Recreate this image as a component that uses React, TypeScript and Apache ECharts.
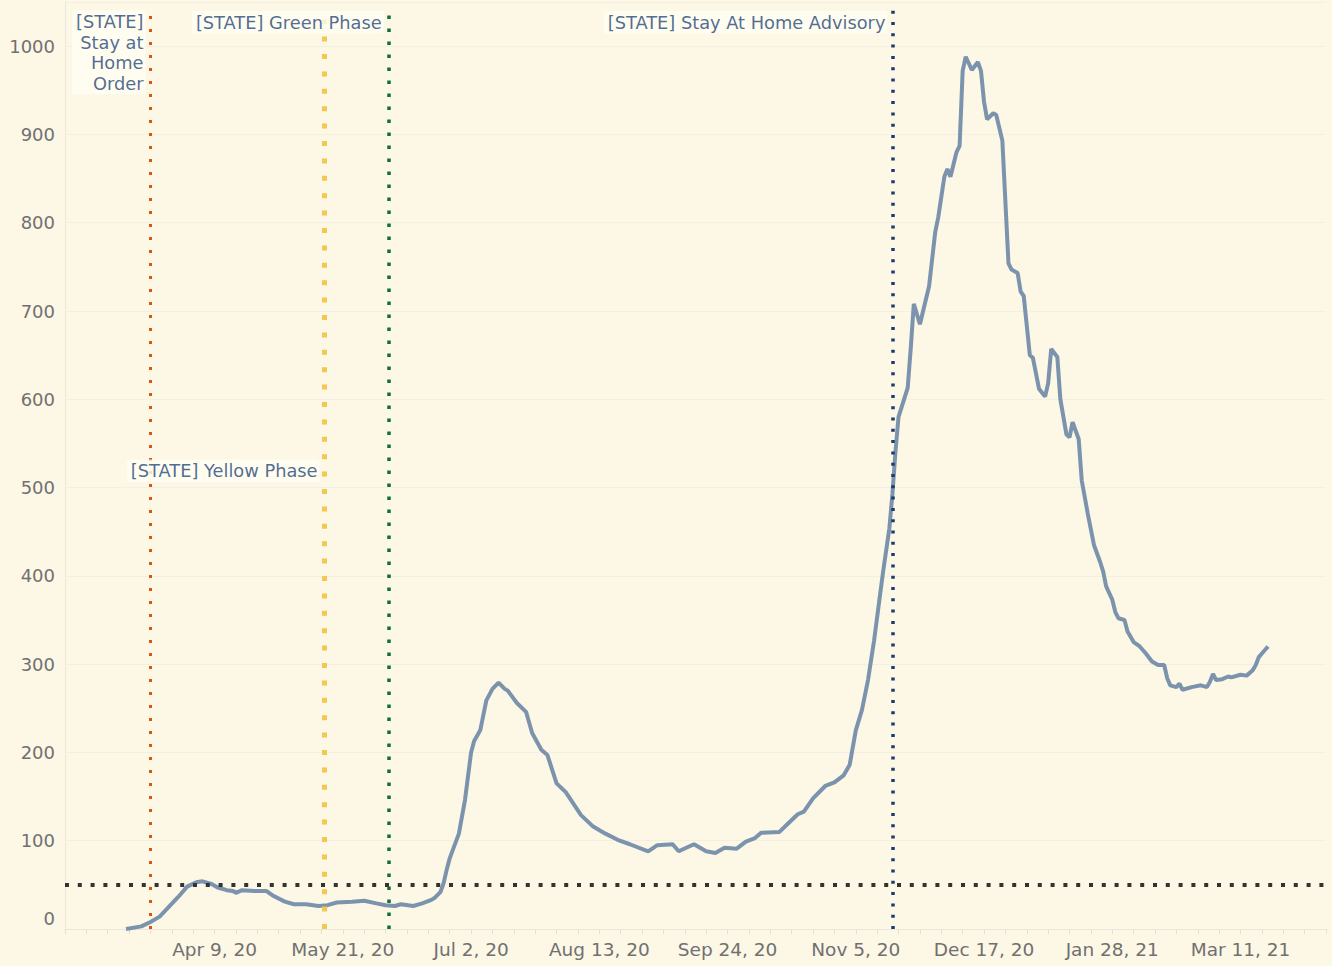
import React, { useEffect, useRef } from "react";
import * as echarts from "echarts";

// Daily new cases (7-day average)
const dates: string[] = [
  "2020-03-11", "2020-03-16", "2020-03-19", "2020-03-22", "2020-03-25", "2020-03-28", "2020-03-29", "2020-03-31",
  "2020-04-03", "2020-04-05", "2020-04-08", "2020-04-10", "2020-04-13", "2020-04-15", "2020-04-16", "2020-04-18",
  "2020-04-22", "2020-04-26", "2020-04-28", "2020-05-02", "2020-05-05", "2020-05-09", "2020-05-13", "2020-05-16",
  "2020-05-19", "2020-05-24", "2020-05-28", "2020-06-01", "2020-06-04", "2020-06-07", "2020-06-09", "2020-06-13",
  "2020-06-16", "2020-06-19", "2020-06-20", "2020-06-22", "2020-06-23", "2020-06-24", "2020-06-25", "2020-06-28",
  "2020-06-30", "2020-07-02", "2020-07-03", "2020-07-05", "2020-07-07", "2020-07-09", "2020-07-11", "2020-07-13",
  "2020-07-14", "2020-07-17", "2020-07-20", "2020-07-22", "2020-07-25", "2020-07-27", "2020-07-30", "2020-08-02",
  "2020-08-07", "2020-08-11", "2020-08-15", "2020-08-19", "2020-08-23", "2020-08-29", "2020-09-01", "2020-09-06",
  "2020-09-08", "2020-09-13", "2020-09-17", "2020-09-20", "2020-09-23", "2020-09-27", "2020-09-30", "2020-10-03",
  "2020-10-05", "2020-10-11", "2020-10-14", "2020-10-17", "2020-10-19", "2020-10-22", "2020-10-26", "2020-10-29",
  "2020-11-01", "2020-11-03", "2020-11-05", "2020-11-07", "2020-11-09", "2020-11-11", "2020-11-13", "2020-11-14",
  "2020-11-16", "2020-11-17", "2020-11-18", "2020-11-19", "2020-11-22", "2020-11-23", "2020-11-24", "2020-11-26",
  "2020-11-29", "2020-12-01", "2020-12-02", "2020-12-04", "2020-12-05", "2020-12-06", "2020-12-08", "2020-12-09",
  "2020-12-10", "2020-12-11", "2020-12-13", "2020-12-15", "2020-12-16", "2020-12-17", "2020-12-18", "2020-12-20",
  "2020-12-21", "2020-12-23", "2020-12-25", "2020-12-26", "2020-12-28", "2020-12-29", "2020-12-30", "2021-01-01",
  "2021-01-02", "2021-01-04", "2021-01-06", "2021-01-07", "2021-01-08", "2021-01-10", "2021-01-11", "2021-01-13",
  "2021-01-14", "2021-01-15", "2021-01-17", "2021-01-18", "2021-01-20", "2021-01-22", "2021-01-24", "2021-01-25",
  "2021-01-26", "2021-01-28", "2021-01-29", "2021-01-30", "2021-02-01", "2021-02-02", "2021-02-04", "2021-02-06",
  "2021-02-08", "2021-02-10", "2021-02-12", "2021-02-14", "2021-02-15", "2021-02-16", "2021-02-18", "2021-02-19",
  "2021-02-20", "2021-02-23", "2021-02-26", "2021-02-28", "2021-03-01", "2021-03-02", "2021-03-03", "2021-03-05",
  "2021-03-07", "2021-03-08", "2021-03-11", "2021-03-13", "2021-03-15", "2021-03-16", "2021-03-17", "2021-03-18",
  "2021-03-20",
];
const cases: number[] = [
  0, 3, 8, 14, 25, 36, 40, 48,
  53, 54, 51, 47, 44, 43, 41, 44,
  43, 43, 38, 31, 28, 28, 26, 27,
  30, 31, 32, 29, 27, 26, 28, 26,
  29, 33, 35, 42, 52, 67, 80, 108,
  146, 200, 213, 225, 259, 272, 279, 272,
  270, 256, 246, 222, 203, 197, 165, 155,
  129, 116, 108, 101, 96, 88, 95, 96,
  88, 96, 88, 86, 92, 91, 99, 103,
  109, 110, 120, 130, 133, 148, 162, 166,
  174, 186, 225, 248, 282, 327, 380, 406,
  454, 493, 541, 580, 613, 658, 708, 685,
  728, 789, 806, 852, 861, 852, 880, 887,
  972, 988, 973, 982, 972, 937, 917, 924,
  922, 893, 754, 747, 743, 722, 717, 650,
  647, 612, 603, 618, 657, 648, 600, 560,
  557, 574, 555, 508, 470, 435, 416, 405,
  388, 373, 359, 352, 350, 337, 325, 320,
  312, 303, 299, 299, 284, 276, 274, 278,
  271, 274, 276, 274, 280, 289, 282, 283,
  286, 285, 288, 287, 293, 299, 308, 312,
  320,
];

const eventDates: string[] = ["2020-03-19", "2020-05-15", "2020-06-05", "2020-11-17"];
const eventNames: string[] = [
  "[STATE]\nStay at\nHome\nOrder",
  "[STATE] Yellow Phase",
  "[STATE] Green Phase",
  "[STATE] Stay At Home Advisory",
];
const threshold = 50;

const MONTHS = ["Jan", "Feb", "Mar", "Apr", "May", "Jun", "Jul", "Aug", "Sep", "Oct", "Nov", "Dec"];
const ORIGIN = Date.UTC(2020, 3, 9);
const DAY = 86400000;
const toDay = (s: string) => Math.round((Date.parse(s + "T00:00:00Z") - ORIGIN) / DAY);
const fmtDay = (d: number) => {
  const dt = new Date(ORIGIN + d * DAY);
  return `${MONTHS[dt.getUTCMonth()]} ${dt.getUTCDate()}, ${String(dt.getUTCFullYear()).slice(2)}`;
};

const FONT = "DejaVu Sans";

export default function App() {
  const ref = useRef<HTMLDivElement>(null);
  useEffect(() => {
    if (!ref.current) return;
    const chart = echarts.init(ref.current, null, { renderer: "svg" });

    const eventStyles = [
      { color: "#d9560f", width: 3, type: [3, 10] },
      { color: "#f1c850", width: 5, type: [5, 12.4] },
      { color: "#0f6e3c", width: 3.5, type: [3.5, 9.5] },
      { color: "#1c3b6d", width: 3.5, type: [3, 8.3] },
    ];
    const labelLevels = [993, 519, 1027, 1027];

    const markData: any[] = eventDates.map((d, i) => [
      { coord: [toDay(d), 0], lineStyle: eventStyles[i] },
      { coord: [toDay(d), 1042] },
    ]);
    markData.push({ yAxis: threshold, lineStyle: { color: "#333333", width: 4, type: [4, 8.8] } });

    chart.setOption({
      animation: false,
      backgroundColor: "#fdf7e6",
      grid: { left: 65, right: 6, top: 2, bottom: 37, containLabel: false },
      xAxis: {
        type: "value",
        min: -49,
        max: 364,
        interval: 7,
        axisLine: { show: true, onZero: false, lineStyle: { color: "#ebe7dc", width: 1 } },
        axisTick: { show: true, length: 5, lineStyle: { color: "#e4e0d5" } },
        splitLine: { show: false },
        axisLabel: {
          formatter: (v: number) => (v >= 0 && v % 42 === 0 ? fmtDay(v) : ""),
          color: "#707070",
          fontSize: 18.5,
          fontFamily: FONT,
          margin: 11,
        },
      },
      yAxis: {
        type: "value",
        min: 0,
        max: 1050,
        interval: 100,
        axisLine: { show: true, onZero: false, lineStyle: { color: "#ebe7dc" } },
        axisTick: { show: false },
        splitLine: { show: true, lineStyle: { color: "#f4efe3" } },
        axisLabel: {
          formatter: (v: number) => (v % 100 !== 0 ? "" : v === 0 ? "{z|0}" : String(v)),
          color: "#707070",
          fontSize: 18,
          fontFamily: FONT,
          margin: 10,
          rich: { z: { padding: [0, 0, 22, 0], fontSize: 18, fontFamily: FONT, color: "#707070" } },
        },
      },
      series: [
        {
          name: "Cases",
          type: "line",
          data: dates.map((d, i) => [toDay(d), cases[i]]),
          showSymbol: false,
          symbol: "none",
          lineStyle: { color: "#7b93ad", width: 4 },
          z: 2,
        },
        {
          name: "Events",
          type: "line",
          data: [],
          z: 5,
          markLine: {
            silent: true,
            symbol: ["none", "none"],
            label: { show: false },
            data: markData,
          },
        },
        {
          name: "Labels",
          type: "scatter",
          symbol: "circle",
          symbolSize: 2,
          itemStyle: { color: "rgba(0,0,0,0)" },
          silent: true,
          z: 6,
          data: eventDates.map((d, i) => ({
            value: [toDay(d), labelLevels[i]],
            name: eventNames[i],
          })),
          label: {
            show: true,
            position: "left",
            distance: 4,
            formatter: (p: any) => p.name,
            color: "#24477a",
            fontSize: 17.8,
            fontFamily: FONT,
            lineHeight: 20.5,
            align: "right",
            backgroundColor: "#fffcf2",
            padding: [1, 2, 1, 4],
          },
        },
      ],
    });

    return () => chart.dispose();
  }, []);

  return (
    <div
      ref={ref}
      style={{ position: "fixed", left: 0, top: 0, width: 1332, height: 966 }}
    />
  );
}
